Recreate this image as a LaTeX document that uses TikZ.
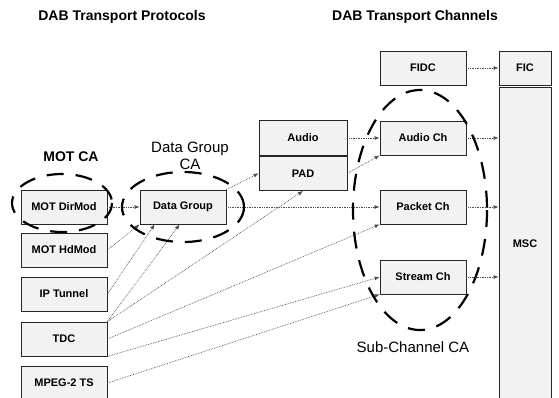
\documentclass[tikz,border=0pt]{standalone}
\usepackage{fontspec}
\setmainfont{Liberation Sans}
\usetikzlibrary{arrows.meta,calc}
\tikzset{
  box/.style={draw=black!85,line width=0.8pt,fill=black!5,minimum width=86pt,minimum height=34pt,inner sep=0pt,font=\fontsize{11}{13}\selectfont\bfseries},
  link/.style={densely dotted,line width=0.7pt,draw=black!70,-{Latex[length=5pt,width=4pt]}},
  cadash/.style={line width=2.2pt,dash pattern=on 17pt off 12pt},
  heading/.style={font=\fontsize{14}{16}\selectfont\bfseries},
  calabel/.style={font=\fontsize{15}{17}\selectfont,align=center}
}
\begin{document}
\begin{tikzpicture}[x=1pt,y=-1pt]
\useasboundingbox (0,0) rectangle (559,397);
\clip (0,0) rectangle (559,397);
%titles
\node[heading] (protocols) at (122,17) {DAB Transport Protocols};
\node[heading] (channels) at (415,17) {DAB Transport Channels};
%protocol boxes
\node[box] (dirmod) at (64,207) {MOT DirMod};
\node[box] (hdmod) at (64,250) {MOT HdMod};
\node[box] (iptunnel) at (64,294) {IP Tunnel};
\node[box] (tdc) at (64,339) {TDC};
\node[box] (mpeg) at (64,383) {MPEG-2 TS};
\node[box] (datagroup) at (183,207) {Data Group};
\node[box,minimum width=88pt,minimum height=34.5pt] (audio) at (303,138) {Audio};
\node[box,minimum width=88pt,minimum height=34.5pt,anchor=north] (pad) at (audio.south) {PAD};
%channel boxes
\node[box] (fidc) at (423,68) {FIDC};
\node[box] (audioch) at (423,138) {Audio Ch};
\node[box] (packetch) at (423,207) {Packet Ch};
\node[box] (streamch) at (423,277) {Stream Ch};
\node[box,minimum width=52pt] (fic) at (525,68) {FIC};
\node[box,minimum width=52pt,minimum height=314pt] (msc) at (525,244) {MSC};
%links
\draw[link] (dirmod.east) -- (datagroup.west);
\draw[link] (hdmod.east) -- (datagroup.south west);
\draw[link] (iptunnel.east) -- ([xshift=15pt]datagroup.south west);
\draw[link] (tdc.north east) -- ([xshift=40pt]datagroup.south west);
\draw[link] (tdc.north east) -- (pad.south);
\draw[link] (tdc.east) -- (packetch.south west);
\draw[link] (tdc.south east) -- (streamch.west);
\draw[link] (mpeg.east) -- (streamch.south west);
\draw[link] (datagroup.north east) -- (pad.west);
\draw[link] (datagroup.east) -- (packetch.west);
\draw[link] (audio.east) -- (audioch.west);
\draw[link] (pad.east) -- (audioch.south west);
\draw[link] (fidc.east) -- (fic.west);
\draw[link] (audioch.east) -- (audioch.east -| msc.west);
\draw[link] (packetch.east) -- (packetch.east -| msc.west);
\draw[link] (streamch.east) -- (streamch.east -| msc.west);
%CA regions
\draw[cadash] (62,203) ellipse [x radius=50,y radius=29];
\draw[cadash] (183,207) ellipse [x radius=61,y radius=35];
\draw[cadash] (420,210) ellipse [x radius=67,y radius=120];
%labels
\node[heading] (motca) at (71,157) {MOT CA};
\node[calabel] (dgca) at (190,156) {Data Group\\CA};
\node[calabel] (subca) at (413,347) {Sub-Channel CA};
\end{tikzpicture}
\end{document}
